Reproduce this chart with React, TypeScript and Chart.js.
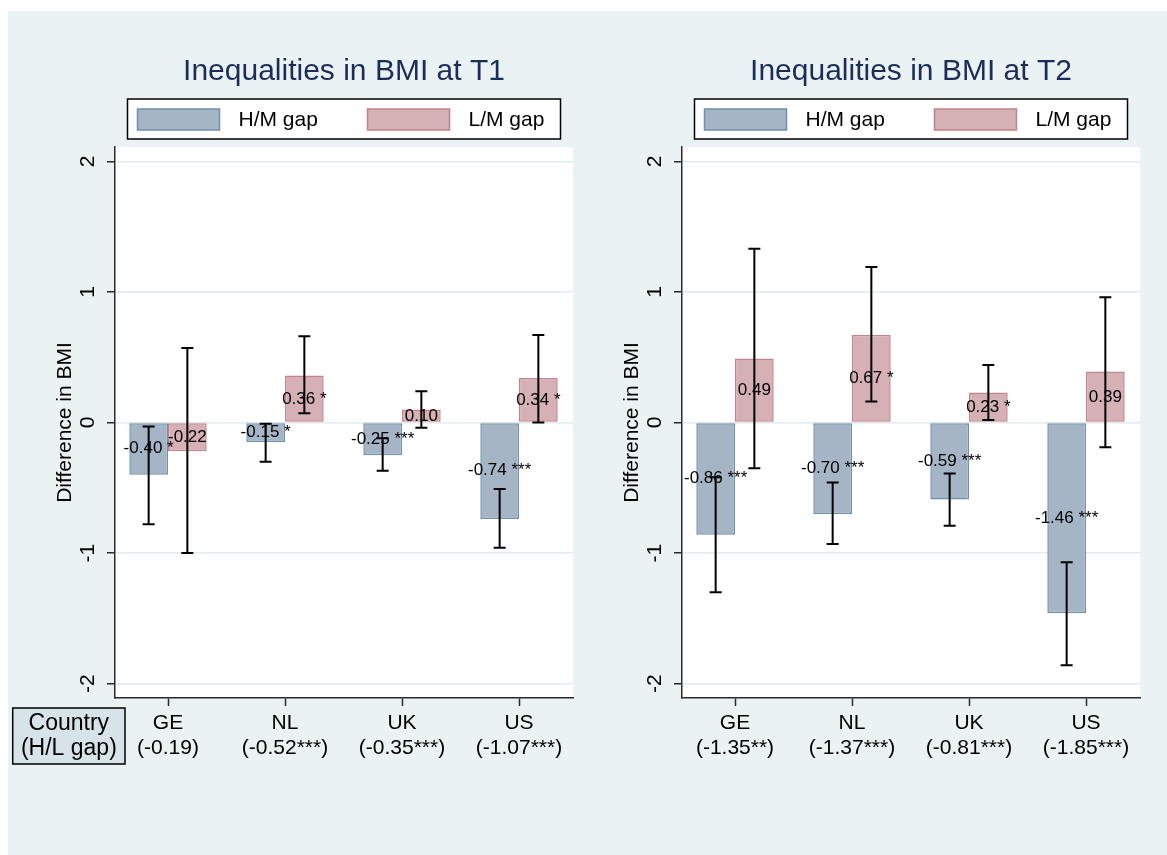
import React, { useEffect, useRef } from "react";
import { Chart, registerables } from "chart.js";

Chart.register(...registerables);

const FONT = "'Liberation Sans', Arial, Helvetica, sans-serif";

// ---------- data ----------
const countries = ["GE", "NL", "UK", "US"];
const xPositions = [1, 2, 3, 4];
const seriesNames = ["H/M gap", "L/M gap"];
const yTicks = [-2, -1, 0, 1, 2];
const yAxisTitle = "Difference in BMI";
const rowHeaderLines = ["Country", "(H/L gap)"];

// T1
const t1Title = "Inequalities in BMI at T1";
const t1HLGap = ["(-0.19)", "(-0.52***)", "(-0.35***)", "(-1.07***)"];
const t1HM = [-0.4, -0.15, -0.25, -0.74];
const t1HMStars = ["*", "*", "***", "***"];
const t1HMLow = [-0.78, -0.3, -0.37, -0.96];
const t1HMHigh = [-0.03, -0.01, -0.12, -0.51];
const t1LM = [-0.22, 0.36, 0.1, 0.34];
const t1LMStars = ["", "*", "", "*"];
const t1LMLow = [-1.0, 0.07, -0.04, 0.0];
const t1LMHigh = [0.57, 0.66, 0.24, 0.67];

// T2
const t2Title = "Inequalities in BMI at T2";
const t2HLGap = ["(-1.35**)", "(-1.37***)", "(-0.81***)", "(-1.85***)"];
const t2HM = [-0.86, -0.7, -0.59, -1.46];
const t2HMStars = ["***", "***", "***", "***"];
const t2HMLow = [-1.3, -0.93, -0.79, -1.86];
const t2HMHigh = [-0.42, -0.46, -0.39, -1.07];
const t2LM = [0.49, 0.67, 0.23, 0.39];
const t2LMStars = ["", "*", "*", ""];
const t2LMLow = [-0.35, 0.16, 0.02, -0.19];
const t2LMHigh = [1.33, 1.19, 0.44, 0.96];

// ---------- style ----------
const BG = "#eaf2f3";
const AXIS = "#2a2a2a";
const GRID = "#e2eaed";
const TITLE_COLOR = "#1c2d5a";
const BLUE_FILL = "#a5b5c6";
const BLUE_LINE = "#7090ad";
const PINK_FILL = "#d5b0b5";
const PINK_LINE = "#c3838c";
const BOX_FILL = "#d8e3e9";

const CANVAS_H = 844;
const Y_AXIS_W = 64;
const X_AXIS_H = 80;
const CA_TOP = 136;
const CA_BOTTOM = 687;
const Y_MIN = -2.11;
const Y_MAX = 2.11;
const X_MIN = 0.547;
const X_MAX = 4.4615;

type PanelCfg = {
  title: string;
  gaps: string[];
  hm: number[];
  hmStars: string[];
  hmLow: number[];
  hmHigh: number[];
  lm: number[];
  lmStars: string[];
  lmLow: number[];
  lmHigh: number[];
  rowHeader: boolean;
  width: number;
  caLeft: number;
  caRight: number;
};

function fmt(v: number, stars: string) {
  return v.toFixed(2) + (stars ? " " + stars : "");
}

function Panel({ cfg, left }: { cfg: PanelCfg; left: number }) {
  const ref = useRef<HTMLCanvasElement>(null);

  useEffect(() => {
    const canvas = ref.current!;
    const lows = [cfg.hmLow, cfg.lmLow];
    const highs = [cfg.hmHigh, cfg.lmHigh];
    const vals = [cfg.hm, cfg.lm];
    const stars = [cfg.hmStars, cfg.lmStars];

    const decor = {
      id: "decor",
      beforeDraw(chart: any) {
        const { ctx, chartArea: ca } = chart;
        ctx.save();
        ctx.fillStyle = "#ffffff";
        ctx.fillRect(ca.left, ca.top, ca.right - ca.left, ca.bottom - ca.top);
        ctx.restore();
      },
      afterDatasetsDraw(chart: any) {
        const { ctx } = chart;
        const ys = chart.scales.y;
        ctx.save();
        // value labels
        ctx.font = `17px ${FONT}`;
        ctx.fillStyle = "#000";
        ctx.textAlign = "center";
        ctx.textBaseline = "middle";
        for (let d = 0; d < 2; d++) {
          const meta = chart.getDatasetMeta(d);
          meta.data.forEach((bar: any, i: number) => {
            const v = vals[d][i];
            ctx.fillText(fmt(v, stars[d][i]), bar.x, ys.getPixelForValue(v / 2));
          });
        }
        // error bars
        ctx.strokeStyle = "#000";
        ctx.lineWidth = 2;
        for (let d = 0; d < 2; d++) {
          const meta = chart.getDatasetMeta(d);
          meta.data.forEach((bar: any, i: number) => {
            const x = bar.x;
            const y1 = ys.getPixelForValue(lows[d][i]);
            const y2 = ys.getPixelForValue(highs[d][i]);
            ctx.beginPath();
            ctx.moveTo(x, y1);
            ctx.lineTo(x, y2);
            ctx.moveTo(x - 6, y1);
            ctx.lineTo(x + 6, y1);
            ctx.moveTo(x - 6, y2);
            ctx.lineTo(x + 6, y2);
            ctx.stroke();
          });
        }
        ctx.restore();
      },
      afterDraw(chart: any) {
        const { ctx, chartArea: ca } = chart;
        const cx = (ca.left + ca.right) / 2;
        ctx.save();
        // title
        ctx.font = `30px ${FONT}`;
        ctx.fillStyle = TITLE_COLOR;
        ctx.textAlign = "center";
        ctx.textBaseline = "alphabetic";
        ctx.fillText(cfg.title, cx, 69);
        // legend
        const bw = 433;
        const bh = 40;
        const bx = cx - bw / 2;
        const by = 88;
        ctx.fillStyle = "#fff";
        ctx.fillRect(bx, by, bw, bh);
        ctx.strokeStyle = "#000";
        ctx.lineWidth = 1.5;
        ctx.strokeRect(bx, by, bw, bh);
        const items = [
          { off: 10, tOff: 111, fill: BLUE_FILL, line: BLUE_LINE },
          { off: 240, tOff: 341, fill: PINK_FILL, line: PINK_LINE },
        ];
        items.forEach((it, k) => {
          ctx.fillStyle = it.fill;
          ctx.fillRect(bx + it.off, by + 10, 82, 21);
          ctx.strokeStyle = it.line;
          ctx.lineWidth = 1.5;
          ctx.strokeRect(bx + it.off, by + 10, 82, 21);
          ctx.fillStyle = "#000";
          ctx.font = `21px ${FONT}`;
          ctx.textAlign = "left";
          ctx.textBaseline = "middle";
          ctx.fillText(seriesNames[k], bx + it.tOff, by + 21);
        });
        // row header box
        if (cfg.rowHeader) {
          const rx = 4.7;
          const ry = 697;
          const rw = 112.3;
          const rh = 56;
          ctx.fillStyle = BOX_FILL;
          ctx.fillRect(rx, ry, rw, rh);
          ctx.strokeStyle = "#000";
          ctx.lineWidth = 1.5;
          ctx.strokeRect(rx, ry, rw, rh);
          ctx.fillStyle = "#000";
          ctx.font = `23px ${FONT}`;
          ctx.textAlign = "center";
          ctx.textBaseline = "middle";
          ctx.fillText(rowHeaderLines[0], rx + rw / 2, 713);
          ctx.fillText(rowHeaderLines[1], rx + rw / 2, 738);
        }
        ctx.restore();
      },
    };

    const chart = new Chart(canvas, {
      type: "bar",
      data: {
        datasets: [
          {
            label: seriesNames[0],
            data: xPositions.map((x, i) => ({ x, y: cfg.hm[i] })),
            backgroundColor: BLUE_FILL,
            borderColor: BLUE_LINE,
            borderWidth: 1.5,
            borderSkipped: false,
            barPercentage: 1,
            categoryPercentage: 0.6615,
          },
          {
            label: seriesNames[1],
            data: xPositions.map((x, i) => ({ x, y: cfg.lm[i] })),
            backgroundColor: PINK_FILL,
            borderColor: PINK_LINE,
            borderWidth: 1.5,
            borderSkipped: false,
            barPercentage: 1,
            categoryPercentage: 0.6615,
          },
        ],
      },
      options: {
        responsive: false,
        animation: false,
        events: [],
        layout: {
          padding: {
            left: cfg.caLeft - Y_AXIS_W,
            right: cfg.width - cfg.caRight,
            top: CA_TOP,
            bottom: CANVAS_H - CA_BOTTOM - X_AXIS_H,
          },
        },
        plugins: {
          legend: { display: false },
          title: { display: false },
          tooltip: { enabled: false },
        },
        scales: {
          x: {
            type: "linear",
            min: X_MIN,
            max: X_MAX,
            offset: false,
            afterBuildTicks: (s: any) => {
              s.ticks = xPositions.map((v) => ({ value: v }));
            },
            afterFit: (s: any) => {
              s.height = X_AXIS_H;
            },
            grid: {
              offset: false,
              drawOnChartArea: false,
              drawTicks: true,
              tickLength: 8,
              tickColor: AXIS,
              tickWidth: 1.5,
            },
            border: { display: true, color: AXIS, width: 1.5 },
            ticks: {
              padding: 4.5,
              color: "#000",
              autoSkip: false,
              maxRotation: 0,
              minRotation: 0,
              font: { family: FONT, size: 21, lineHeight: 1.19 },
              callback: (v: any) => {
                const i = xPositions.indexOf(Number(v));
                return i >= 0 ? [countries[i], cfg.gaps[i]] : "";
              },
            },
          },
          y: {
            type: "linear",
            min: Y_MIN,
            max: Y_MAX,
            afterBuildTicks: (s: any) => {
              s.ticks = yTicks.map((v) => ({ value: v }));
            },
            afterFit: (s: any) => {
              s.width = Y_AXIS_W;
            },
            grid: {
              color: GRID,
              lineWidth: 1.5,
              drawTicks: true,
              tickLength: 8,
              tickColor: AXIS,
              tickWidth: 1.5,
            },
            border: { display: true, color: AXIS, width: 1.5 },
            ticks: {
              minRotation: 90,
              maxRotation: 90,
              crossAlign: "center",
              padding: 9.7,
              color: "#000",
              font: { family: FONT, size: 21 },
              callback: (v: any) => String(v),
            },
            title: {
              display: true,
              text: yAxisTitle,
              color: "#000",
              font: { family: FONT, size: 21, lineHeight: 1.2 },
              padding: { top: 1.4, bottom: 0 },
            },
          },
        },
      } as any,
      plugins: [decor],
    });
    return () => chart.destroy();
  }, []);

  return (
    <canvas
      ref={ref}
      width={cfg.width}
      height={CANVAS_H}
      style={{ position: "absolute", left, top: 0, width: cfg.width, height: CANVAS_H }}
    />
  );
}

const leftCfg: PanelCfg = {
  title: t1Title,
  gaps: t1HLGap,
  hm: t1HM,
  hmStars: t1HMStars,
  hmLow: t1HMLow,
  hmHigh: t1HMHigh,
  lm: t1LM,
  lmStars: t1LMStars,
  lmLow: t1LMLow,
  lmHigh: t1LMHigh,
  rowHeader: true,
  width: 590,
  caLeft: 107,
  caRight: 565,
};

const rightCfg: PanelCfg = {
  title: t2Title,
  gaps: t2HLGap,
  hm: t2HM,
  hmStars: t2HMStars,
  hmLow: t2HMLow,
  hmHigh: t2HMHigh,
  lm: t2LM,
  lmStars: t2LMStars,
  lmLow: t2LMLow,
  lmHigh: t2LMHigh,
  rowHeader: false,
  width: 569,
  caLeft: 84,
  caRight: 542,
};

export default function App() {
  return (
    <div
      style={{
        position: "fixed",
        left: 8,
        top: 11,
        width: 1159,
        height: CANVAS_H,
        background: BG,
        overflow: "hidden",
      }}
    >
      <Panel cfg={leftCfg} left={0} />
      <Panel cfg={rightCfg} left={590} />
    </div>
  );
}
